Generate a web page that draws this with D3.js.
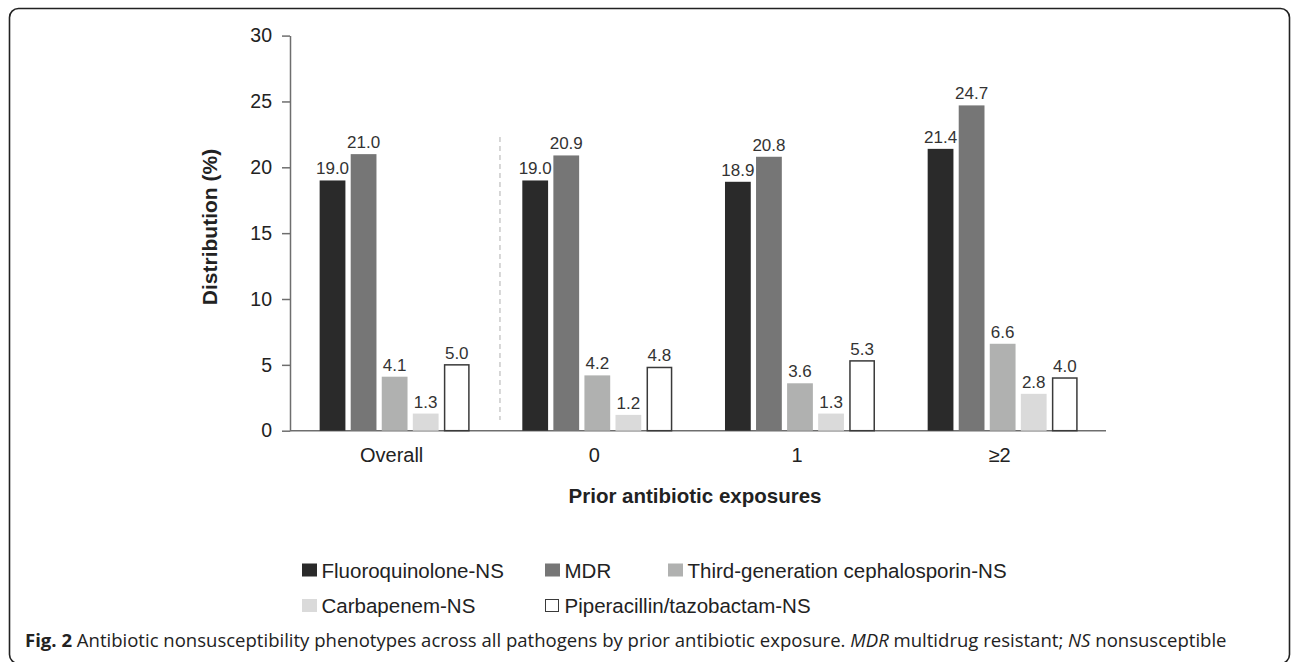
<!DOCTYPE html>
<html>
<head>
<meta charset="utf-8">
<script src="https://cdn.jsdelivr.net/npm/d3@7"></script>
<style>
html,body{margin:0;padding:0;background:#fff;}
svg{display:block;}
text{font-family:"Liberation Sans",Arial,Helvetica,sans-serif;}
</style>
</head>
<body>
<div id="chart"></div>
<script>
const groups = ['Overall', '0', '1', '\u22652'];
const seriesNames = ['Fluoroquinolone-NS', 'MDR', 'Third-generation cephalosporin-NS', 'Carbapenem-NS', 'Piperacillin/tazobactam-NS'];
const fluoroquinolone = [19.0, 19.0, 18.9, 21.4];
const mdr = [21.0, 20.9, 20.8, 24.7];
const thirdGen = [4.1, 4.2, 3.6, 6.6];
const carbapenem = [1.3, 1.2, 1.3, 2.8];
const piperacillin = [5.0, 4.8, 5.3, 4.0];
const yTicks = [0, 5, 10, 15, 20, 25, 30];

const seriesValues = [fluoroquinolone, mdr, thirdGen, carbapenem, piperacillin];
const fills = ['#2a2a2a', '#767676', '#b0b1b0', '#dadada', '#ffffff'];
const strokes = [null, null, null, null, '#3a3a3a'];

const W = 1292, H = 662;
const svg = d3.select('#chart').append('svg').attr('width', W).attr('height', H);

// frame (bottom edge sits just below the picture)
svg.append('rect').attr('x', 9.5).attr('y', 8.5).attr('width', 1280).attr('height', 655)
  .attr('rx', 9).attr('fill', 'none').attr('stroke', '#222').attr('stroke-width', 1.6);

const y = d3.scaleLinear().domain([0, 30]).range([430.7, 35.6]);
const x = d3.scaleBand().domain(groups).range([293.3, 1104]).padding(0);
const inner = d3.scaleBand().domain(d3.range(seriesNames.length))
  .range([(x.bandwidth() - 150) / 2, (x.bandwidth() + 150) / 2]).paddingInner(0.17);

// y axis
const yAxis = svg.append('g').attr('transform', 'translate(290,0)')
  .call(d3.axisLeft(y).tickValues(yTicks).tickSize(8).tickPadding(10).tickSizeOuter(0));
yAxis.select('.domain').attr('stroke', '#6e6e6e').attr('stroke-width', 1.5);
yAxis.selectAll('.tick line').attr('stroke', '#6e6e6e').attr('stroke-width', 1.5);
yAxis.selectAll('.tick text').attr('fill', '#222').style('font-size', '19.5px')
  .style('font-family', '"Liberation Sans",Arial,sans-serif');

// x axis line
svg.append('line').attr('x1', 290).attr('x2', 1106).attr('y1', y(0)).attr('y2', y(0))
  .attr('stroke', '#6e6e6e').attr('stroke-width', 1.5);

// dashed separator between Overall and the exposure groups
svg.append('line').attr('x1', x('0') + 4).attr('x2', x('0') + 4)
  .attr('y1', 137).attr('y2', 420)
  .attr('stroke', '#bdbdbd').attr('stroke-width', 1.2).attr('stroke-dasharray', '5,4');

// bars
const cells = [];
groups.forEach((g, gi) => {
  seriesValues.forEach((vals, si) => cells.push({g: g, si: si, v: vals[gi]}));
});

const gBars = svg.append('g');
gBars.selectAll('rect').data(cells).enter().append('rect')
  .attr('x', d => x(d.g) + inner(d.si) + (strokes[d.si] ? 0.75 : 0))
  .attr('width', d => inner.bandwidth() - (strokes[d.si] ? 1.5 : 0))
  .attr('y', d => y(d.v))
  .attr('height', d => y(0) - y(d.v))
  .attr('fill', d => fills[d.si])
  .attr('stroke', d => strokes[d.si] || 'none')
  .attr('stroke-width', 1.5);

gBars.selectAll('text').data(cells).enter().append('text')
  .attr('x', d => x(d.g) + inner(d.si) + inner.bandwidth() / 2)
  .attr('y', d => y(d.v) - 6)
  .attr('text-anchor', 'middle')
  .attr('fill', '#333')
  .style('font-size', '17px')
  .text(d => d.v.toFixed(1));

// category labels
svg.append('g').selectAll('text').data(groups).enter().append('text')
  .attr('x', d => x(d) + x.bandwidth() / 2 - 3)
  .attr('y', 462)
  .attr('text-anchor', 'middle')
  .attr('fill', '#222')
  .style('font-size', '20px')
  .text(d => d);

// axis titles
svg.append('text').attr('x', 695).attr('y', 503).attr('text-anchor', 'middle')
  .attr('fill', '#222').style('font-size', '20.5px').style('font-weight', 'bold')
  .text('Prior antibiotic exposures');

svg.append('text').attr('transform', 'translate(216.5,227) rotate(-90)')
  .attr('text-anchor', 'middle').attr('fill', '#222')
  .style('font-size', '21px').style('font-weight', 'bold')
  .text('Distribution (%)');

// legend
const legendPos = [[302, 570], [545, 570], [668, 570], [302, 605.5], [545, 605.5]];
const legend = svg.append('g').selectAll('g').data(seriesNames).enter().append('g')
  .attr('transform', (d, i) => `translate(${legendPos[i][0]},${legendPos[i][1]})`);
legend.append('rect')
  .attr('x', (d, i) => strokes[i] ? 0.5 : 0)
  .attr('y', (d, i) => strokes[i] ? -6 : -6.5)
  .attr('width', (d, i) => strokes[i] ? 13 : 15)
  .attr('height', (d, i) => strokes[i] ? 12 : 13)
  .attr('fill', (d, i) => fills[i])
  .attr('stroke', (d, i) => strokes[i] || 'none')
  .attr('stroke-width', 1);
legend.append('text').attr('x', 19.5).attr('y', 7.5)
  .attr('fill', '#222').style('font-size', '20.5px')
  .text(d => d);

// caption
const cap = svg.append('text').attr('x', 25).attr('y', 647).attr('fill', '#222')
  .style('font-family', '"Open Sans","Noto Sans",sans-serif').style('font-size', '17px');
cap.append('tspan').style('font-weight', 'bold').text('Fig. 2');
cap.append('tspan').text(' Antibiotic nonsusceptibility phenotypes across all pathogens by prior antibiotic exposure. ');
cap.append('tspan').style('font-style', 'italic').text('MDR');
cap.append('tspan').text(' multidrug resistant; ');
cap.append('tspan').style('font-style', 'italic').text('NS');
cap.append('tspan').text(' nonsusceptible');
const capW = cap.node().getComputedTextLength();
cap.style('font-size', (17 * 1203 / capW).toFixed(2) + 'px');
</script>
</body>
</html>
